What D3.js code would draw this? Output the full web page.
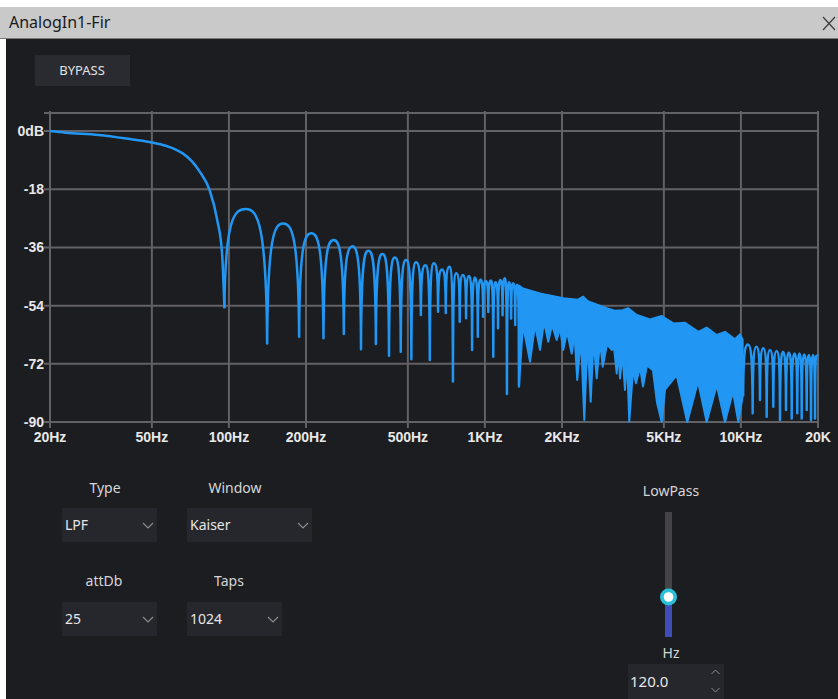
<!DOCTYPE html>
<html>
<head>
<meta charset="UTF-8">
<title>AnalogIn1-Fir</title>
<script src="https://cdn.jsdelivr.net/npm/d3@7"></script>
<style>
body { margin: 0; background: #fff; }
text { font-family: "Noto Sans", sans-serif; }
</style>
</head>
<body>
<div id="chart"></div>
<script>
// axis ticks
var xTicks = [20, 50, 100, 200, 500, 1000, 2000, 5000, 10000, 20000];
var xTickLabels = ["20Hz", "50Hz", "100Hz", "200Hz", "500Hz", "1KHz", "2KHz", "5KHz", "10KHz", "20K"];
var yTicks = [0, -18, -36, -54, -72, -90];
var yTickLabels = ["0dB", "-18", "-36", "-54", "-72", "-90"];

// main lobe
var passHz = [20, 23, 31, 42, 50, 57, 62, 66, 72, 77, 84, 90, 94, 96];
var passDb = [0, -0.5, -1.2, -2.6, -3.5, -4.6, -5.7, -6.9, -9.5, -12.6, -18.2, -27.5, -37.8, -54.8];

// side lobes: nulls, and the peak of each lobe between two nulls
var nullHz = [96, 141, 188, 234, 281, 328, 375, 422, 469, 516, 562, 609, 656, 703,
	750, 797, 844, 891, 938, 984, 1031, 1078, 1125, 1172, 1219, 1266, 1313, 1358];
var nullDb = [-54.8, -65.7, -63.6, -64.1, -62.8, -67.5, -65.9, -69.5, -68.3, -70.6, -56.9, -70.8, -55.9, -56.3,
	-77.5, -59, -57.9, -67.7, -63.6, -57.4, -56, -69.8, -61, -57, -81.3, -58, -60, -79.1];
var peakDb = [-24.1, -28.6, -31.6, -33.7, -35.6, -37.0, -38.0, -39.1, -39.9, -40.6, -41.5, -40.9, -42.8,
	-42.0, -44.0, -44.5, -44.8, -45.3, -45.9, -46.4, -46.2, -46.8, -46.1, -45.5, -46.8, -47.1, -47.5];

// dense part (lobes too narrow to see): top edge and ragged lower edge
var bandTopHz = [1358, 1410, 1640, 2024, 2300, 2420, 2520, 2990, 3210, 3450, 3630, 3918, 4414, 4903,
	5443, 6048, 6817, 7350, 8042, 8665, 9482, 9910, 10156];
var bandTopDb = [-47.8, -48.7, -50.2, -51.7, -52.2, -51.2, -52.6, -54.8, -55.6, -55.4, -54.8, -56.9, -58.3, -57.2,
	-59.5, -59.3, -62.1, -60.8, -63.1, -62.1, -64.4, -62.9, -64.5];
var bandLowHz = [1358, 1408, 1500, 1569, 1641, 1701, 1768, 1828, 1907, 1964, 2024, 2092, 2182, 2238, 2294,
	2372, 2444, 2516, 2589, 2655, 2733, 2816, 2885, 2998, 3128, 3193, 3272, 3326, 3370, 3446, 3524, 3588,
	3663, 3787, 3892, 4034, 4144, 4295, 4534, 4700, 4903, 5052, 5610, 6173, 6798, 7350, 8042, 8665, 9312,
	9768, 10156];
var bandLowDb = [-79.1, -60, -71.3, -60, -67.7, -59, -65.2, -60, -64.6, -61, -67.7, -62, -68.8, -63, -77,
	-64, -89.4, -64, -83.7, -64.5, -76.5, -65, -72.9, -66, -67.7, -67, -75, -68, -76.5, -69, -80.1, -70,
	-89.9, -74, -78, -73, -79, -72.5, -74, -84, -90, -80, -75.5, -90, -77.5, -90, -78.6, -90, -80.6,
	-90, -82];

// 10K - 20K lobes
var hiNullHz = [10200, 11114, 11868, 12606, 13380, 14212, 14998, 15788, 16600, 17272, 18070, 18784, 19468, 20000];
var hiNullDb = [-82, -87.3, -83.2, -88.4, -85.3, -89.4, -86.3, -88.9, -87.3, -88.9, -86.3, -89.4, -88.9, -69.6];
var hiPeakDb = [-66.0, -66.7, -67.2, -67.7, -68.0, -68.3, -68.5, -68.8, -68.8, -69.1, -69.3, -69.3, -69.5];

var blue = "#2196f3";
var grid = "#616166";

var svg = d3.select("#chart").append("svg")
	.attr("width", 838)
	.attr("height", 699);

// window frame
svg.append("rect").attr("x", 0).attr("y", 0).attr("width", 838).attr("height", 699).attr("fill", "#fff");
svg.append("rect").attr("x", 6).attr("y", 38).attr("width", 832).attr("height", 661).attr("fill", "#1c1d21");
svg.append("rect").attr("x", 0).attr("y", 7).attr("width", 838).attr("height", 31).attr("fill", "#c9c9c9");
svg.append("line").attr("x1", 0).attr("x2", 838).attr("y1", 38.5).attr("y2", 38.5).attr("stroke", "#7a7a7a");
svg.append("text").attr("x", 9).attr("y", 28).attr("font-size", 16).attr("fill", "#1a1a1a").text("AnalogIn1-Fir");
// close cross
svg.append("path").attr("d", "M823,17L835,30M835,17L823,30")
	.attr("stroke", "#3a3a3a").attr("stroke-width", 1.2).attr("fill", "none");

// BYPASS button
svg.append("rect").attr("x", 35).attr("y", 55).attr("width", 95).attr("height", 31).attr("fill", "#2a2a31");
svg.append("text").attr("x", 82).attr("y", 75).attr("text-anchor", "middle").attr("font-size", 13)
	.attr("fill", "#e2e2e2").text("BYPASS");

// scales
var x = d3.scaleLog().domain([20, 20000]).range([50, 818]);
var y = d3.scaleLinear().domain([-90, 5.6]).range([422, 113]);

// grid
var g = svg.append("g");
g.selectAll(".hg").data(yTicks.concat([5.6])).enter().append("line")
	.attr("x1", 44).attr("x2", 818)
	.attr("y1", function(d){ return y(d); }).attr("y2", function(d){ return y(d); })
	.attr("stroke", grid).attr("stroke-width", 2);
g.selectAll(".vg").data(xTicks).enter().append("line")
	.attr("x1", function(d){ return x(d); }).attr("x2", function(d){ return x(d); })
	.attr("y1", 111).attr("y2", 428)
	.attr("stroke", grid).attr("stroke-width", 2);

g.selectAll(".yl").data(yTicks).enter().append("text")
	.attr("x", 44).attr("y", function(d){ return y(d) + 5; })
	.attr("text-anchor", "end")
	.style("font-family", "'Liberation Sans', Arial, sans-serif")
	.attr("font-size", 14).attr("font-weight", "bold").attr("fill", "#e8e8e8")
	.text(function(d, i){ return yTickLabels[i]; });
g.selectAll(".xl").data(xTicks).enter().append("text")
	.attr("x", function(d){ return x(d); }).attr("y", 442)
	.attr("text-anchor", "middle")
	.style("font-family", "'Liberation Sans', Arial, sans-serif")
	.attr("font-size", 14).attr("font-weight", "bold").attr("fill", "#e8e8e8")
	.text(function(d, i){ return xTickLabels[i]; });

// response curve
var line = d3.line()
	.x(function(d){ return x(d[0]); })
	.y(function(d){ return y(d[1]); });

svg.append("path")
	.attr("d", line.curve(d3.curveMonotoneX)(d3.zip(passHz, passDb)))
	.attr("fill", "none").attr("stroke", blue).attr("stroke-width", 2.5);

// arch for every lobe, null -> peak -> null
function lobes(nHz, nDb, pDb) {
	var p = d3.path();
	p.moveTo(x(nHz[0]), y(nDb[0]));
	for (var i = 0; i < pDb.length; i++) {
		var x1 = x(nHz[i]), y1 = y(nDb[i]), x2 = x(nHz[i + 1]), y2 = y(nDb[i + 1]), yp = y(pDb[i]);
		var xm = (x1 + x2) / 2, h = xm - x1;
		p.bezierCurveTo(x1 + 0.04 * h, yp + 0.1 * (y1 - yp), x1 + 0.45 * h, yp, xm, yp);
		p.bezierCurveTo(x2 - 0.45 * h, yp, x2 - 0.04 * h, yp + 0.1 * (y2 - yp), x2, y2);
	}
	return p.toString();
}

svg.append("path").attr("d", lobes(nullHz, nullDb, peakDb))
	.attr("fill", "none").attr("stroke", blue).attr("stroke-width", 2.5).attr("stroke-linejoin", "round");

var band = d3.zip(bandTopHz, bandTopDb).concat(d3.zip(bandLowHz, bandLowDb).reverse());
svg.append("path").attr("d", line.curve(d3.curveLinear)(band) + "Z")
	.attr("fill", blue).attr("stroke", blue).attr("stroke-width", 2).attr("stroke-linejoin", "round");

svg.append("path").attr("d", lobes(hiNullHz, hiNullDb, hiPeakDb))
	.attr("fill", "none").attr("stroke", blue).attr("stroke-width", 2.5).attr("stroke-linejoin", "round");

// controls
function label(tx, ty, s) {
	svg.append("text").attr("x", tx).attr("y", ty).attr("text-anchor", "middle")
		.attr("font-size", 14).attr("fill", "#d6d6d6").text(s);
}
function combo(bx, by, bw, s) {
	svg.append("rect").attr("x", bx).attr("y", by).attr("width", bw).attr("height", 34).attr("fill", "#26262d");
	svg.append("text").attr("x", bx + 3).attr("y", by + 22).attr("font-size", 14).attr("fill", "#e6e6e6").text(s);
	var cx = bx + bw - 9, cy = by + 17;
	svg.append("polyline").attr("points", [cx - 5, cy - 2, cx, cy + 3, cx + 5, cy - 2].join(" "))
		.attr("fill", "none").attr("stroke", "#8c8c8c").attr("stroke-width", 1.2);
}
label(105, 493, "Type");
label(235, 493, "Window");
label(104, 586, "attDb");
label(229, 586, "Taps");
combo(62, 508, 95, "LPF");
combo(187, 508, 125, "Kaiser");
combo(62, 602, 95, "25");
combo(187, 602, 95, "1024");

// LowPass slider
label(671, 496, "LowPass");
svg.append("rect").attr("x", 665).attr("y", 512).attr("width", 7).attr("height", 125).attr("fill", "#444448");
svg.append("rect").attr("x", 665).attr("y", 600).attr("width", 7).attr("height", 37).attr("fill", "#3e4db8");
svg.append("circle").attr("cx", 668.5).attr("cy", 597).attr("r", 8.5).attr("fill", "#2bc0d8");
svg.append("circle").attr("cx", 668.5).attr("cy", 597).attr("r", 4.8).attr("fill", "#fff");
label(671, 658, "Hz");
svg.append("rect").attr("x", 628).attr("y", 664).attr("width", 96).attr("height", 35).attr("fill", "#26262d");
svg.append("text").attr("x", 630).attr("y", 687).attr("font-size", 15).attr("fill", "#e6e6e6").text("120.0");
svg.append("polyline").attr("points", "711.5,674 715.5,670 719.5,674")
	.attr("fill", "none").attr("stroke", "#8c8c8c").attr("stroke-width", 1);
svg.append("polyline").attr("points", "711.5,688 715.5,692 719.5,688")
	.attr("fill", "none").attr("stroke", "#8c8c8c").attr("stroke-width", 1);
</script>
</body>
</html>
